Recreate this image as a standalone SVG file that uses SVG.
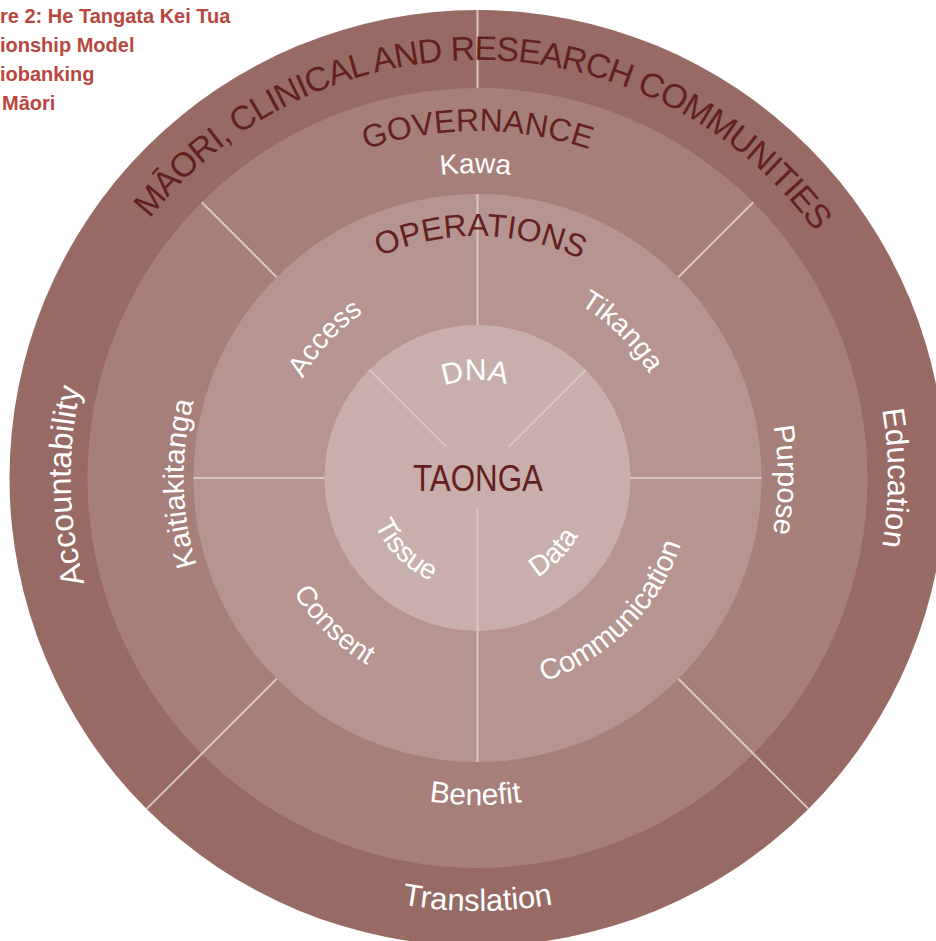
<svg xmlns="http://www.w3.org/2000/svg" xmlns:xlink="http://www.w3.org/1999/xlink" width="936" height="941" viewBox="0 0 936 941">
<style>
.t{font-family:"Liberation Sans",Arial,sans-serif;}
.dark{fill:#641f1f;}
.wh{fill:#ffffff;}
.cap{fill:#b8483f;font-weight:bold;font-size:20px;}
.div{stroke:#d9c5c1;stroke-width:2;fill:none;}
</style>
<defs>
<path id="cw418" d="M477.5,896 A418,418 0 0 1 477.5,60 A418,418 0 0 1 477.5,896"/>
<path id="cw347" d="M477.5,825 A347,347 0 0 1 477.5,131 A347,347 0 0 1 477.5,825"/>
<path id="cw305" d="M477.5,783 A305,305 0 0 1 477.5,173 A305,305 0 0 1 477.5,783"/>
<path id="cw242" d="M477.5,720 A242,242 0 0 1 477.5,236 A242,242 0 0 1 477.5,720"/>
<path id="cw201" d="M477.5,679 A201,201 0 0 1 477.5,277 A201,201 0 0 1 477.5,679"/>
<path id="cw98" d="M477.5,576 A98,98 0 0 1 477.5,380 A98,98 0 0 1 477.5,576"/>
<path id="cw294" d="M477.5,772 A294,294 0 0 1 477.5,184 A294,294 0 0 1 477.5,772"/>
<path id="cw407" d="M477.5,885 A407,407 0 0 1 477.5,71 A407,407 0 0 1 477.5,885"/>
<path id="cw300" d="M477.5,778.5 A300.5,300.5 0 0 1 477.5,177.5 A300.5,300.5 0 0 1 477.5,778.5"/>
<path id="cw410" d="M477.5,888.5 A410.5,410.5 0 0 1 477.5,67.5 A410.5,410.5 0 0 1 477.5,888.5"/>
<path id="ccw217" d="M477.5,261 A217,217 0 0 0 477.5,695 A217,217 0 0 0 477.5,261"/>
<path id="ccw214" d="M477.5,264 A214,214 0 0 0 477.5,692 A214,214 0 0 0 477.5,264"/>
<path id="ccw327" d="M477.5,151 A327,327 0 0 0 477.5,805 A327,327 0 0 0 477.5,151"/>
<path id="ccw433" d="M477.5,45 A433,433 0 0 0 477.5,911 A433,433 0 0 0 477.5,45"/>
<path id="ccw113" d="M477.5,365 A113,113 0 0 0 477.5,591 A113,113 0 0 0 477.5,365"/>
<path id="ccw116" d="M477.5,362 A116,116 0 0 0 477.5,594 A116,116 0 0 0 477.5,362"/>
</defs>

<g id="caption" class="t cap">
<text x="0" y="23">re 2: He Tangata Kei Tua</text>
<text x="0" y="52">ionship Model</text>
<text x="0" y="81">iobanking</text>
<text x="2" y="110">Māori</text>
</g>

<g id="ring-communities">
<circle cx="477.5" cy="478" r="468" fill="#976b64"/>
</g>
<g id="ring-governance">
<circle cx="477.5" cy="478" r="390" fill="#a67f78"/>
</g>
<g id="ring-operations">
<circle cx="477.5" cy="478" r="284" fill="#b69590"/>
</g>
<g id="core">
<circle cx="477.5" cy="478" r="153" fill="#c8afab"/>
</g>

<g id="connectors" class="div">
<line x1="477.5" y1="10" x2="477.5" y2="88"/>
<line x1="477.5" y1="194" x2="477.5" y2="325"/>
<line x1="477.5" y1="507.5" x2="477.5" y2="762"/>
<line x1="193.5" y1="478" x2="324.5" y2="478"/>
<line x1="630.5" y1="478" x2="761.5" y2="478"/>
<line x1="201.7" y1="202.2" x2="276.7" y2="277.2"/>
<line x1="753.3" y1="202.2" x2="678.3" y2="277.2"/>
<line x1="276.7" y1="678.8" x2="146.6" y2="808.9"/>
<line x1="678.3" y1="678.8" x2="808.4" y2="808.9"/>
<line x1="369.3" y1="369.8" x2="446.4" y2="446.9"/>
<line x1="585.7" y1="369.8" x2="508.6" y2="446.9"/>
</g>

<g id="label-communities" class="t">
<text class="dark" font-size="34" letter-spacing="-1.05" text-anchor="middle"><textPath xlink:href="#cw418" href="#cw418" startOffset="50.3%">MĀORI, CLINICAL AND RESEARCH COMMUNITIES</textPath></text>
<text class="wh" font-size="32" text-anchor="middle"><textPath xlink:href="#cw407" href="#cw407" startOffset="24.7%">Accountability</textPath></text>
<text class="wh" font-size="31" text-anchor="middle"><textPath xlink:href="#cw410" href="#cw410" startOffset="75%">Education</textPath></text>
<text class="wh" font-size="31" text-anchor="middle"><textPath xlink:href="#ccw433" href="#ccw433" startOffset="50%">Translation</textPath></text>
</g>

<g id="label-governance" class="t">
<text class="dark" font-size="32" text-anchor="middle"><textPath xlink:href="#cw347" href="#cw347" startOffset="50%">GOVERNANCE</textPath></text>
<text class="wh" font-size="28" text-anchor="middle"><textPath xlink:href="#cw305" href="#cw305" startOffset="49.9%">Kawa</textPath></text>
<text class="wh" font-size="29" text-anchor="middle"><textPath xlink:href="#cw294" href="#cw294" startOffset="24.7%">Kaitiakitanga</textPath></text>
<text class="wh" font-size="29" text-anchor="middle"><textPath xlink:href="#cw300" href="#cw300" startOffset="75.1%">Purpose</textPath></text>
<text class="wh" font-size="30" text-anchor="middle"><textPath xlink:href="#ccw327" href="#ccw327" startOffset="49.9%">Benefit</textPath></text>
</g>

<g id="label-operations" class="t">
<text class="dark" font-size="32" text-anchor="middle"><textPath xlink:href="#cw242" href="#cw242" startOffset="50.2%">OPERATIONS</textPath></text>
<text class="wh" font-size="28" text-anchor="middle"><textPath xlink:href="#cw201" href="#cw201" startOffset="36.8%">Access</textPath></text>
<text class="wh" font-size="28" text-anchor="middle"><textPath xlink:href="#cw201" href="#cw201" startOffset="62.4%">Tikanga</textPath></text>
<text class="wh" font-size="28" text-anchor="middle"><textPath xlink:href="#ccw217" href="#ccw217" startOffset="37.7%">Consent</textPath></text>
<text class="wh" font-size="29" text-anchor="middle"><textPath xlink:href="#ccw214" href="#ccw214" startOffset="62.5%">Communication</textPath></text>
</g>

<g id="label-core" class="t">
<text class="dark" x="478" y="491" font-size="37" text-anchor="middle" textLength="130" lengthAdjust="spacingAndGlyphs">TAONGA</text>
<text class="wh" font-size="30" text-anchor="middle"><textPath xlink:href="#cw98" href="#cw98" startOffset="49.6%">DNA</textPath></text>
<text class="wh" font-size="28" text-anchor="middle"><textPath xlink:href="#ccw113" href="#ccw113" startOffset="37.5%">Tissue</textPath></text>
<text class="wh" font-size="28" text-anchor="middle"><textPath xlink:href="#ccw116" href="#ccw116" startOffset="62.7%">Data</textPath></text>
</g>
</svg>
